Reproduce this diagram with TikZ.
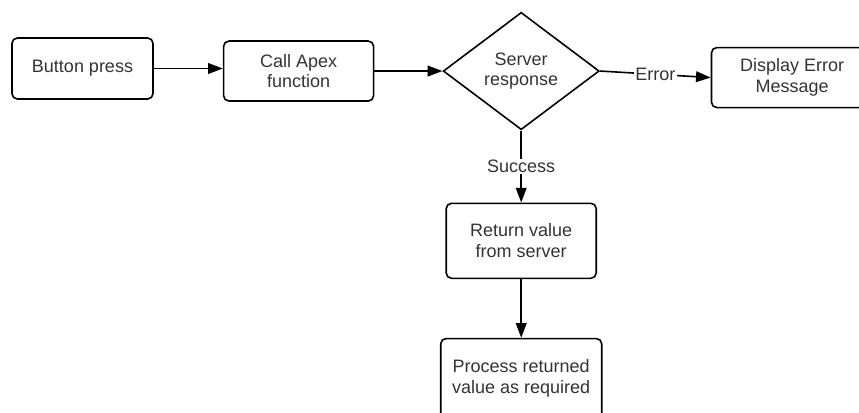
\documentclass[tikz,border=0pt]{standalone}
\usepackage{fontspec}
\setmainfont{Liberation Sans}
\usepackage{tikz}
\usetikzlibrary{arrows.meta,shapes.geometric,positioning}

\begin{document}
\begin{tikzpicture}[
  x=0.75pt, y=-0.75pt,
  box/.style={draw, rounded corners=4pt, line width=1.2pt, minimum width=112.5pt,
              minimum height=45pt, align=center, text=black!80,
              font=\fontsize{13.5}{15.5}\selectfont},
  decision/.style={draw, diamond, line width=1.2pt, inner sep=0pt, minimum width=117pt,
              minimum height=88pt, align=center, text=black!80,
              font=\fontsize{13.5}{15.5}\selectfont},
  arr/.style={-{Triangle[length=11pt,width=8pt]}, line width=1.2pt},
  lbl/.style={fill=white, inner sep=1pt, text=black!80, font=\fontsize{13.5}{15.5}\selectfont}
]
\useasboundingbox (0,0) rectangle (859,412);
\clip (0,0) rectangle (859,412);

\node[box, minimum width=105.75pt, minimum height=45.75pt] (press) at (82.5,68.5) {Button press};
\node[box, right=51.75pt of press, yshift=-1.9pt] (apex) {Call Apex\\function};
\node[decision, right=51pt of apex] (server) {Server\\response};
\node[box, right=83pt of server, yshift=-4.9pt, minimum width=121pt] (error) {Display Error\\Message};
\node[box, below=54pt of server, minimum height=56.25pt] (ret) {Return value\\from server};
\node[box, below=44pt of ret, minimum width=120.75pt, minimum height=60pt] (proc) {Process returned\\value as required};

\draw[arr] (press.east) -- (press.east -| apex.west);
\draw[arr] (apex) -- (server);
\draw[arr] (server.east) -- node[lbl] {Error} (error.west);
\draw[arr] (server.south) -- node[lbl] {Success} (ret.north);
\draw[arr] (ret) -- (proc);
\end{tikzpicture}
\end{document}
